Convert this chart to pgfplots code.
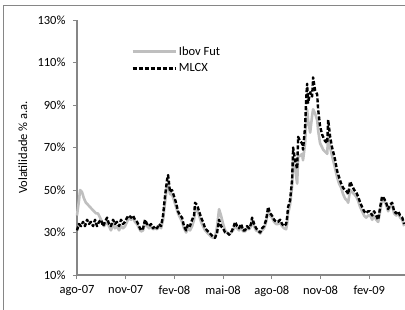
\documentclass[border=0pt]{standalone}
\usepackage{pgfplots}
\pgfplotsset{compat=1.18}
\usepackage{pgfplotstable}
\usepackage{fontspec}
\setmainfont{Carlito}
\definecolor{axgray}{RGB}{134,134,134}
\definecolor{ibov}{RGB}{191,191,191}

\pgfplotstableread{
m v
0.00 31
0.12 34
0.25 33
0.37 35
0.49 33
0.62 36
0.74 34
0.86 35
0.99 33
1.11 36
1.23 33
1.36 35
1.48 36
1.60 33
1.73 35
1.85 37
1.97 34
2.09 33
2.22 36
2.34 34
2.46 35
2.59 33
2.71 36
2.83 34
2.96 35
3.08 37
3.20 38
3.33 37
3.45 38
3.57 36
3.70 35
3.82 33
3.94 31
4.07 32
4.19 36
4.31 34
4.44 33
4.56 34
4.68 32
4.81 33
4.93 32
5.05 34
5.18 33
5.30 38
5.42 47
5.55 55
5.61 57
5.73 49
5.85 50
5.98 47
6.10 44
6.22 40
6.35 38
6.47 37
6.59 33
6.72 31
6.84 34
6.96 33
7.09 36
7.21 38
7.27 44
7.39 43
7.52 40
7.64 37
7.76 35
7.89 32
8.01 31
8.13 30
8.26 29
8.38 28
8.50 27.5
8.63 30
8.75 36
8.87 33
9.00 32
9.12 30
9.24 30
9.37 29
9.49 30
9.61 32
9.74 35
9.86 33
9.98 32
10.11 34
10.23 31
10.35 31
10.47 33
10.60 32
10.72 34
10.78 37
10.91 34
11.03 32
11.15 31
11.28 30
11.40 32
11.52 33
11.65 36
11.77 42
11.89 39
12.01 38
12.14 36
12.26 35
12.38 35
12.51 36
12.63 34
12.75 33
12.88 34
12.94 37
13.00 42
13.12 45
13.25 55
13.31 70
13.43 64
13.56 60
13.62 75
13.74 73
13.86 72
13.92 69
14.05 80
14.11 92
14.17 100
14.23 91
14.36 96
14.48 94
14.54 103
14.66 97
14.79 95
14.85 88
14.97 80
15.10 76
15.16 75
15.28 73
15.41 72
15.47 83
15.59 75
15.71 70
15.84 66
15.90 64
16.02 59
16.14 56
16.27 53
16.39 51
16.51 50
16.64 49
16.70 48
16.82 54
16.94 52
17.07 50
17.19 49
17.31 47
17.44 44
17.56 42
17.68 40
17.81 39
17.93 40
18.05 40
18.18 38
18.30 40
18.42 38
18.55 36
18.67 42
18.79 47
18.91 46
19.04 44
19.16 41
19.28 43
19.41 44
19.53 40
19.66 39
19.78 40
19.90 38
20.03 37
20.15 34
}\mlcx

\pgfplotstableread{
m v
0.00 38
0.12 45
0.19 50
0.31 49
0.43 46
0.55 44
0.68 43
0.80 42
0.92 41
1.05 40
1.17 39
1.29 39
1.42 37
1.54 35
1.66 33
1.85 35
1.97 33
2.09 31
2.22 34
2.34 32
2.46 33
2.59 31
2.71 33
2.83 32
2.96 33
3.08 35
3.20 37
3.33 36
3.45 37
3.57 35
3.70 34
3.82 32
3.94 30.5
4.07 31
4.19 35
4.31 33
4.44 32
4.56 33
4.68 31.5
4.81 32
4.93 31.5
5.05 33
5.18 32
5.30 36
5.42 44
5.55 52
5.61 53
5.73 48
5.85 48
5.98 45
6.10 42
6.22 39
6.35 37
6.47 35
6.59 32
6.72 30
6.84 32
6.96 31
7.09 33
7.21 36
7.27 41
7.39 41
7.52 38
7.64 35
7.76 33
7.89 31
8.01 30
8.13 29
8.26 28
8.38 27.5
8.50 27.5
8.63 33
8.75 41
8.87 38
9.00 34
9.12 31
9.24 30
9.37 29
9.49 30
9.61 31
9.74 33
9.86 32
9.98 31
10.11 33
10.23 30.5
10.35 30.5
10.47 32
10.60 31.5
10.72 33
10.78 36
10.91 33
11.03 31
11.15 30.5
11.28 29.5
11.40 31
11.52 32
11.65 35
11.77 40
11.89 38
12.01 37
12.14 35
12.26 34
12.38 34
12.51 34.5
12.63 33
12.75 32
12.88 31.5
12.94 34
13.00 39
13.12 43
13.25 52
13.31 65
13.43 60
13.56 53
13.62 66
13.74 66
13.86 67
13.92 64
14.05 72
14.11 82
14.17 88
14.23 83
14.36 77
14.48 85
14.54 88
14.66 86
14.79 83
14.85 78
14.97 72
15.10 70
15.16 69
15.28 68
15.41 67
15.47 76
15.59 70
15.71 66
15.84 62
15.90 60
16.02 56
16.14 53
16.27 51
16.39 48
16.51 46
16.64 45
16.70 44
16.82 50
16.94 49
17.07 48
17.19 47
17.31 45
17.44 42
17.56 40
17.68 38
17.81 37
17.93 38
18.05 38
18.18 36
18.30 38
18.42 36
18.55 35
18.67 40
18.79 45
18.91 45
19.04 43
19.16 40
19.28 42
19.41 43
19.53 39
19.66 38
19.78 39
19.90 37
20.03 36
20.15 33
}\ibov

\begin{document}
\begin{tikzpicture}[x=1pt,y=1pt]
\useasboundingbox (0,0) rectangle (405,309);
\begin{scope}
\clip (0,0) rectangle (405,309);
\draw[axgray, line width=1.6pt] (3.5,-5) -- (3.5,303.5) -- (420,303.5);
\end{scope}
\begin{axis}[
  at={(77pt,34pt)}, anchor=south west,
  scale only axis, width=328pt, height=255pt,
  xmin=0, xmax=20.2, ymin=10, ymax=130,
  axis x line=bottom, axis y line=left,
  axis line style={-, draw=axgray, line width=1.6pt},
  tick style={draw=axgray, line width=1pt},
  tick align=outside, major tick length=4pt,
  xtick={0,3,6,9,12,15,18},
  xticklabels={ago-07,nov-07,fev-08,mai-08,ago-08,nov-08,fev-09},
  ytick={10,30,50,70,90,110,130},
  yticklabel={\pgfmathprintnumber{\tick}\%},
  /pgf/number format/assume math mode=true,
  ticklabel style={font=\fontsize{12.5}{14}\selectfont, text=black},
  xticklabel style={yshift=-3pt},
  yticklabel style={xshift=-4pt},
  ylabel={Volatilidade \% a.a.},
  ylabel style={font=\fontsize{12.5}{14}\selectfont, at={(axis description cs:-0.165,0.5)}, anchor=center, rotate=0},
  legend style={at={(axis description cs:0.165,0.905)}, anchor=north west, draw=none, fill=none,
    font=\fontsize{12.5}{14}\selectfont, row sep=3pt, inner sep=0pt},
  legend cell align=left,
  legend image code/.code={\draw[#1] (0pt,0pt) -- (43pt,0pt);},
  clip=false,
]
\addplot[ibov, line width=2.6pt, line join=round] table[x=m,y=v] {\ibov};
\addlegendentry{Ibov Fut}
\addplot[black, line width=2.4pt, line join=round, dash pattern=on 4pt off 2pt] table[x=m,y=v] {\mlcx};
\addlegendentry{MLCX}
\end{axis}
\end{tikzpicture}
\end{document}
